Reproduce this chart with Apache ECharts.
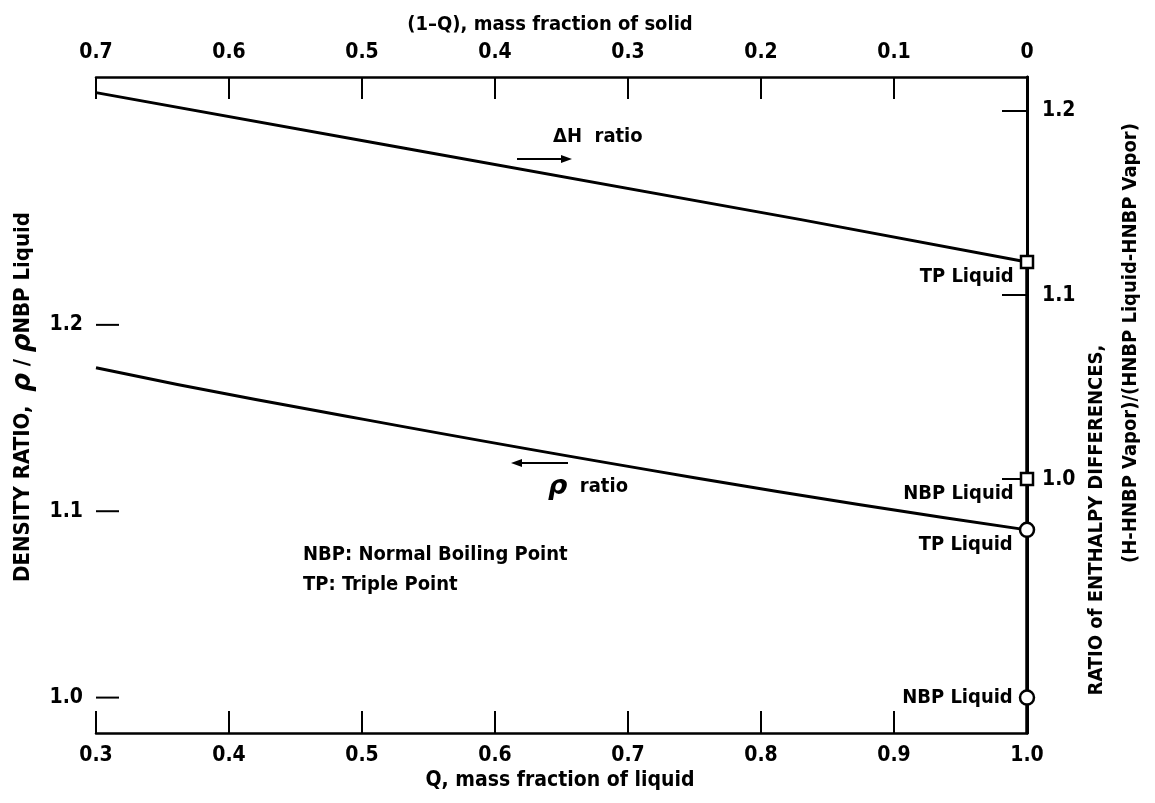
<!DOCTYPE html>
<html>
<head>
<meta charset="utf-8">
<script src="https://cdn.jsdelivr.net/npm/echarts@6/dist/echarts.min.js"></script>
<style>
html,body{margin:0;padding:0;background:#fff;}
#chart{width:1155px;height:803px;}
</style>
</head>
<body>
<div id="chart"></div>
<script>
// ---- data ----
const qTicks = [0.3, 0.4, 0.5, 0.6, 0.7, 0.8, 0.9, 1.0];          // Q, mass fraction of liquid
const solidTicks = [0.7, 0.6, 0.5, 0.4, 0.3, 0.2, 0.1, 0];       // (1-Q), mass fraction of solid
const densityTicks = [1.0, 1.1, 1.2];
const enthalpyTicks = [1.0, 1.1, 1.2];

const dhQ = [0.3, 0.53, 0.83, 1.0];
const dhRatio = [1.210, 1.180, 1.141, 1.118];

const rhoQ = [0.3, 0.42, 0.75, 1.0];
const rhoRatio = [1.177, 1.160, 1.118, 1.090];

const enthalpyPtNames = ['TP Liquid', 'NBP Liquid'];
const enthalpyPtValues = [1.118, 1.0];
const densityPtNames = ['TP Liquid', 'NBP Liquid'];
const densityPtValues = [1.090, 1.0];

const densityRange = [0.981, 1.333];
const enthalpyRange = [0.862, 1.2185];

// ---- chart ----
const FONT = "'DejaVu Sans Condensed', 'DejaVu Sans', sans-serif";
const chart = echarts.init(document.getElementById('chart'), null, {renderer: 'canvas'});

const txt = {fontFamily: FONT, fontWeight: 'bold', color: '#000'};
const g = (fs) => ({fontFamily: FONT, fontWeight: 'bold', fill: '#000', fontSize: fs});

const option = {
  backgroundColor: '#fff',
  animation: false,
  grid: {left: 96, right: 128, top: 77, bottom: 70, containLabel: false},
  xAxis: [
    {
      type: 'value', position: 'bottom', min: qTicks[0], max: qTicks[qTicks.length - 1], interval: 0.1,
      axisLine: {show: true, lineStyle: {color: '#000', width: 2.5}},
      axisTick: {show: true, inside: true, length: 22, lineStyle: {color: '#000', width: 2}},
      axisLabel: Object.assign({fontSize: 21, margin: 12, formatter: v => v.toFixed(1)}, txt),
      splitLine: {show: false}
    },
    {
      type: 'value', position: 'top', inverse: true, min: solidTicks[solidTicks.length - 1], max: solidTicks[0], interval: 0.1,
      axisLine: {show: true, lineStyle: {color: '#000', width: 2.5}},
      axisTick: {show: true, inside: true, length: 22, lineStyle: {color: '#000', width: 2}},
      axisLabel: Object.assign({fontSize: 21, margin: 14, formatter: v => (Math.abs(v) < 1e-9 ? '0' : v.toFixed(1))}, txt),
      splitLine: {show: false}
    }
  ],
  yAxis: [
    {
      type: 'value', position: 'left', min: densityRange[0], max: densityRange[1],
      axisLine: {show: true, lineStyle: {color: '#000', width: 3}},
      axisTick: {show: false},
      axisLabel: Object.assign({fontSize: 21, margin: 13, customValues: densityTicks, formatter: v => v.toFixed(1)}, txt),
      splitLine: {show: false}
    },
    {
      type: 'value', position: 'right', min: enthalpyRange[0], max: enthalpyRange[1],
      axisLine: {show: true, lineStyle: {color: '#000', width: 2.5}},
      axisTick: {show: true, inside: true, length: 25, customValues: enthalpyTicks, lineStyle: {color: '#000', width: 2}},
      axisLabel: Object.assign({fontSize: 21, margin: 15, customValues: enthalpyTicks, formatter: v => v.toFixed(1)}, txt),
      splitLine: {show: false}
    }
  ],
  series: [
    {
      name: 'ΔH ratio', type: 'line', xAxisIndex: 0, yAxisIndex: 1, symbol: 'none', smooth: false,
      lineStyle: {color: '#000', width: 3},
      data: dhQ.map((q, i) => [q, dhRatio[i]]), z: 3
    },
    {
      name: 'ρ ratio', type: 'line', xAxisIndex: 0, yAxisIndex: 0, symbol: 'none', smooth: true,
      lineStyle: {color: '#000', width: 3},
      data: rhoQ.map((q, i) => [q, rhoRatio[i]]), z: 3
    },
    {
      name: 'edge', type: 'line', xAxisIndex: 0, yAxisIndex: 1, symbol: 'none',
      lineStyle: {color: '#000', width: 3.5},
      data: [[qTicks[qTicks.length - 1], enthalpyPtValues[0]], [qTicks[qTicks.length - 1], enthalpyRange[0]]], z: 2
    },
    {
      name: 'enthalpy points', type: 'scatter', xAxisIndex: 0, yAxisIndex: 1,
      symbol: 'rect', symbolSize: 12,
      itemStyle: {color: '#fff', borderColor: '#000', borderWidth: 2.5, opacity: 1},
      label: Object.assign({show: true, position: 'left', distance: 6, fontSize: 20, offset: [0, 15],
        formatter: p => p.data.name}, txt),
      data: enthalpyPtNames.map((n, i) => ({name: n, value: [1.0, enthalpyPtValues[i]]})), z: 5
    },
    {
      name: 'density points', type: 'scatter', xAxisIndex: 0, yAxisIndex: 0,
      symbol: 'circle', symbolSize: 14,
      itemStyle: {color: '#fff', borderColor: '#000', borderWidth: 2.5, opacity: 1},
      label: Object.assign({show: true, position: 'left', distance: 6, fontSize: 20,
        formatter: p => p.data.name}, txt),
      data: densityPtNames.map((n, i) => ({
        name: n, value: [1.0, densityPtValues[i]],
        label: {offset: [0, i === 0 ? 15 : 0]}
      })), z: 5
    }
  ]
};
chart.setOption(option);

// left-axis ticks (inside), placed through the axis scale
const tickGraphics = densityTicks.map(v => {
  const y = chart.convertToPixel({yAxisIndex: 0}, v);
  return {type: 'line', shape: {x1: 96, y1: y, x2: 119, y2: y}, style: {stroke: '#000', lineWidth: 2}, z: 10};
});

chart.setOption({
  graphic: tickGraphics.concat([
    // axis titles
    {type: 'text', style: Object.assign({text: '(1\u2013Q), mass fraction of solid', x: 550, y: 25, align: 'center', verticalAlign: 'middle'}, g(20))},
    {type: 'text', style: Object.assign({text: 'Q, mass fraction of liquid', x: 560, y: 781, align: 'center', verticalAlign: 'middle'}, g(21))},
    {type: 'text', x: 23, y: 397, rotation: Math.PI / 2,
      style: {text: '{a|DENSITY RATIO,  }{r|ρ}{a| / }{r|ρ}{a|NBP Liquid}', align: 'center', verticalAlign: 'middle', fontFamily: FONT,
        rich: {a: g(22), r: {fontSize: 26, fontFamily: 'DejaVu Sans', fontWeight: 'bold', fontStyle: 'italic', fill: '#000'}}}},
    {type: 'text', x: 1097, y: 520, rotation: Math.PI / 2,
      style: Object.assign({text: 'RATIO of ENTHALPY DIFFERENCES,', align: 'center', verticalAlign: 'middle'}, g(20))},
    {type: 'text', x: 1131, y: 343, rotation: Math.PI / 2,
      style: Object.assign({text: '(H-HNBP Vapor)/(HNBP Liquid-HNBP Vapor)', align: 'center', verticalAlign: 'middle'}, g(20))},
    // annotations
    {type: 'text', style: Object.assign({text: 'ΔH  ratio', x: 553, y: 137, align: 'left', verticalAlign: 'middle'}, g(20))},
    {type: 'line', shape: {x1: 517, y1: 159, x2: 566, y2: 159}, style: {stroke: '#000', lineWidth: 2}},
    {type: 'polygon', shape: {points: [[572, 159], [561, 155], [561, 163]]}, style: {fill: '#000'}},
    {type: 'text', style: {text: '{r|ρ}{a|  ratio}', x: 548, y: 487, align: 'left', verticalAlign: 'middle',
      rich: {a: g(20), r: {fontSize: 27, fontFamily: 'DejaVu Sans', fontWeight: 'bold', fontStyle: 'italic', fill: '#000'}}}},
    {type: 'line', shape: {x1: 517, y1: 463, x2: 568, y2: 463}, style: {stroke: '#000', lineWidth: 2}},
    {type: 'polygon', shape: {points: [[511, 463], [522, 459], [522, 467]]}, style: {fill: '#000'}},
    {type: 'text', style: Object.assign({text: 'NBP: Normal Boiling Point', x: 303, y: 555, align: 'left', verticalAlign: 'middle'}, g(20))},
    {type: 'text', style: Object.assign({text: 'TP: Triple Point', x: 303, y: 585, align: 'left', verticalAlign: 'middle'}, g(20))}
  ])
});
</script>
</body>
</html>
